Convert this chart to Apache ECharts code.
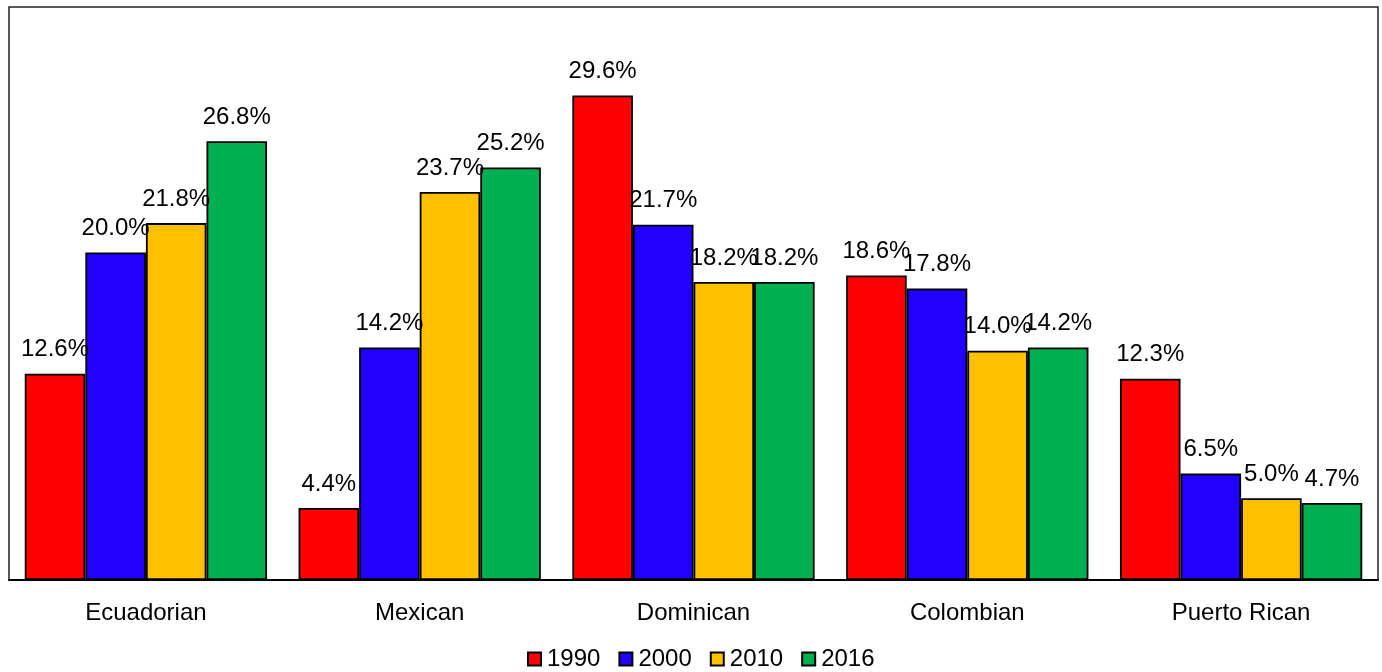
<!DOCTYPE html>
<html>
<head>
<meta charset="utf-8">
<script src="https://cdn.jsdelivr.net/npm/echarts@6/dist/echarts.min.js"></script>
<style>
  html, body { margin: 0; padding: 0; background: #fff; }
  #chart { width: 1382px; height: 672px; }
</style>
</head>
<body>
<div id="chart"></div>
<script>
const categories = ['Ecuadorian', 'Mexican', 'Dominican', 'Colombian', 'Puerto Rican'];
const years = ['1990', '2000', '2010', '2016'];
const v1990 = [12.6, 4.4, 29.6, 18.6, 12.3];
const v2000 = [20.0, 14.2, 21.7, 17.8, 6.5];
const v2010 = [21.8, 23.7, 18.2, 14.0, 5.0];
const v2016 = [26.8, 25.2, 18.2, 14.2, 4.7];
const colors = ['#ff0000', '#2200ff', '#ffc000', '#00b050'];

const FONT = 'Liberation Sans, Arial, sans-serif';
const seriesData = [v1990, v2000, v2010, v2016];

const chart = echarts.init(document.getElementById('chart'), null, { renderer: 'canvas' });
chart.setOption({
  animation: false,
  backgroundColor: '#fff',
  textStyle: { fontFamily: FONT },
  grid: { left: 9, right: 4, top: 7, bottom: 92, show: true, borderColor: '#222', borderWidth: 1.5 },
  legend: {
    top: 647, left: 527, itemWidth: 13, itemHeight: 13, itemGap: 18,
    icon: 'rect', padding: 0,
    textStyle: { fontSize: 24, color: '#000', fontFamily: FONT, padding: [0, 0, 0, 1] },
    data: years
  },
  xAxis: {
    type: 'category', data: categories,
    axisLine: { lineStyle: { color: '#000', width: 2 } },
    axisTick: { show: false },
    axisLabel: { color: '#000', fontSize: 24, margin: 21, fontFamily: FONT }
  },
  yAxis: {
    type: 'value', min: 0, max: 35, show: false,
    splitLine: { show: false }
  },
  series: years.map((y, i) => ({
    name: y, type: 'bar', data: seriesData[i],
    barGap: '0%', barCategoryGap: '11.5%',
    itemStyle: { color: colors[i], borderColor: '#000', borderWidth: 1.8 },
    label: {
      show: true, position: 'top', distance: 12, color: '#000', fontSize: 24,
      fontFamily: FONT, formatter: p => p.value.toFixed(1) + '%'
    }
  }))
});
</script>
</body>
</html>
